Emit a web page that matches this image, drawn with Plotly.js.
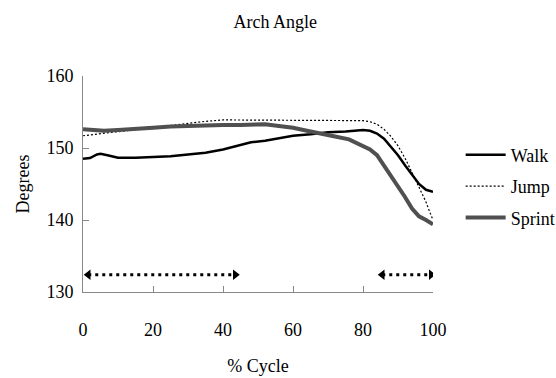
<!DOCTYPE html>
<html>
<head>
<meta charset="utf-8">
<script src="https://cdn.plot.ly/plotly-3.0.1.min.js"></script>
<style>html,body{margin:0;padding:0;background:#fff;}#chart{width:556px;height:378px;}</style>
</head>
<body>
<div id="chart"></div>
<script>
// Data
var walkX = [0,2,4,5,7,10,15,20,25,30,35,40,45,48,52,56,60,65,70,75,80,82,84,86,88,90,92,94,96,98,99,100];
var walkY = [148.5,148.6,149.1,149.2,149.0,148.65,148.65,148.75,148.85,149.1,149.35,149.8,150.4,150.8,151.0,151.4,151.7,151.9,152.2,152.3,152.5,152.4,152.0,151.3,150.2,149.0,147.6,146.3,145.0,144.2,144.0,143.9];

var jumpX = [0,5,10,15,20,25,30,35,40,50,60,70,78,80,82,84,86,88,90,92,94,96,98,99,100];
var jumpY = [151.7,152.0,152.3,152.6,152.9,153.2,153.5,153.7,153.9,153.9,153.9,153.9,153.9,153.8,153.65,153.3,152.6,151.6,150.3,148.6,146.6,144.6,142.5,141.2,140.0];

var sprintX = [0,3,6,10,15,20,25,30,35,40,45,50,52,56,60,64,68,72,76,80,82,84,86,88,90,92,94,96,98,100];
var sprintY = [152.6,152.5,152.4,152.5,152.6,152.8,153.0,153.1,153.2,153.2,153.2,153.25,153.3,153.05,152.8,152.4,152.05,151.6,151.2,150.3,149.8,149.0,147.6,146.1,144.7,143.2,141.6,140.5,140.0,139.4];

var seriesNames = ["Walk", "Jump", "Sprint"];
var arrowStart = [1.5, 85.5];
var arrowEnd = [43.5, 99.5];
var arrowLevel = 132.4;

var xTicks = [0,20,40,60,80,100];
var yTicks = [130,140,150,160];

var serif = "'Liberation Serif', 'Times New Roman', serif";

var traces = [
  {x: walkX, y: walkY, name: seriesNames[0], mode: "lines", legendgroup: "a",
   line: {color: "#000000", width: 2.5}},
  {x: jumpX, y: jumpY, name: seriesNames[1], mode: "lines", legendgroup: "b",
   line: {color: "#000000", width: 1.2, dash: "2px,2px"}},
  {x: sprintX, y: sprintY, name: seriesNames[2], mode: "lines", legendgroup: "c",
   line: {color: "#505050", width: 4}}
];

for (var i = 0; i < arrowStart.length; i++) {
  traces.push({
    x: [arrowStart[i], arrowEnd[i]], y: [arrowLevel, arrowLevel],
    mode: "lines+markers", showlegend: false, hoverinfo: "skip",
    line: {color: "#000000", width: 3, dash: "3px,4px"},
    marker: {symbol: ["triangle-left", "triangle-right"], size: 9, color: "#000000"}
  });
}

var layout = {
  width: 556, height: 378, autosize: false,
  margin: {l: 83, r: 123, t: 76, b: 86, autoexpand: false},
  paper_bgcolor: "#ffffff", plot_bgcolor: "#ffffff",
  font: {family: serif, size: 18, color: "#000000"},
  title: {text: "Arch Angle", font: {family: serif, size: 18, color: "#000000"},
          x: 0.495, xref: "container", xanchor: "center", y: 0.942, yref: "container", yanchor: "middle"},
  xaxis: {
    range: [0, 100], tickvals: xTicks, ticktext: xTicks.map(String),
    ticks: "inside", ticklen: 6, tickcolor: "#888888", tickwidth: 1,
    showline: true, linecolor: "#888888", linewidth: 1, showgrid: false, zeroline: false,
    ticklabelstandoff: 21, tickfont: {family: serif, size: 18},
    title: {text: "% Cycle", font: {family: serif, size: 18}, standoff: 20}
  },
  yaxis: {
    range: [130, 160], tickvals: yTicks, ticktext: yTicks.map(String),
    ticks: "inside", ticklen: 6, tickcolor: "#888888", tickwidth: 1,
    showline: true, linecolor: "#888888", linewidth: 1, showgrid: false, zeroline: false,
    ticklabelstandoff: 5, tickfont: {family: serif, size: 18},
    title: {text: "Degrees", font: {family: serif, size: 18}, standoff: 12}
  },
  legend: {x: 1.079, xanchor: "left", y: 0.72, yanchor: "top", traceorder: "grouped",
           tracegroupgap: 5, itemwidth: 40, font: {family: serif, size: 18}, bgcolor: "rgba(0,0,0,0)"},
  showlegend: true
};

Plotly.newPlot("chart", traces, layout, {displayModeBar: false, staticPlot: true});
</script>
</body>
</html>
